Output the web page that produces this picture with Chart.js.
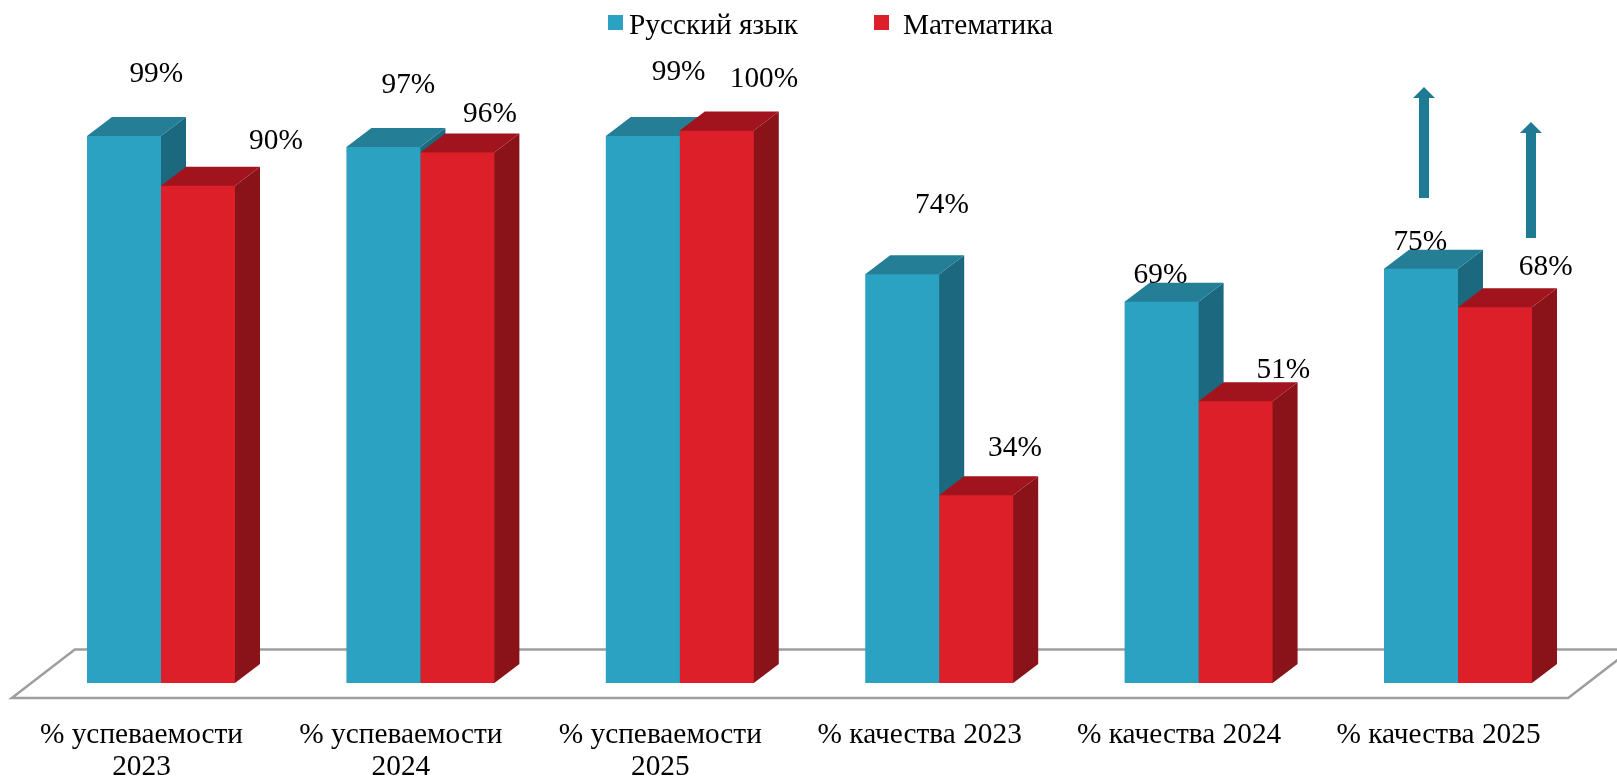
<!DOCTYPE html>
<html lang="ru">
<head>
<meta charset="utf-8">
<title>Успеваемость и качество</title>
<script src="https://cdn.jsdelivr.net/npm/chart.js@4"></script>
<style>
html,body{margin:0;padding:0;background:#fff;overflow:hidden}
canvas{display:block}
</style>
</head>
<body>
<canvas id="c" width="1617" height="781"></canvas>
<script>
const categories = [
  ['% успеваемости', '2023'],
  ['% успеваемости', '2024'],
  ['% успеваемости', '2025'],
  '% качества 2023',
  '% качества 2024',
  '% качества 2025'
];
const seriesNames = ['Русский язык', 'Математика'];
const russianValues = [99, 97, 99, 74, 69, 75];
const mathValues = [90, 96, 100, 34, 51, 68];

const FONT = '"Liberation Serif", "Times New Roman", serif';
const FONT_SIZE = 29.33;
const palette = [
  { front: '#2CA2C2', top: '#237E96', side: '#1C687E' },
  { front: '#DD1F29', top: '#A2141D', side: '#8A1319' }
];
const arrowColor = '#1F7A93';
const floorColor = '#9E9E9E';

/* hand-placed value labels: offset from the top centre of each bar */
const labelOffsets = [
  [[32.3, -61.7], [25, -61.6], [35.8, -64], [39.8, -69], [-1.1, -26.8], [-0.7, -26]],
  [[78, -44.7], [32.6, -38.2], [47.2, -51.1], [38.8, -46.5], [47.8, -31.2], [50.7, -39.6]]
];

const DEPTH_X = 25, DEPTH_Y = 19;

function poly(ctx, pts, fill) {
  ctx.beginPath();
  pts.forEach((p, i) => i ? ctx.lineTo(p[0], p[1]) : ctx.moveTo(p[0], p[1]));
  ctx.closePath();
  ctx.fillStyle = fill;
  ctx.fill();
}

const scene = {
  id: 'scene',
  beforeDatasetsDraw(chart) {
    const { ctx, chartArea: a, scales: { y } } = chart;
    const base = y.getPixelForValue(0);
    /* floor */
    const fx0 = a.left - 19.5, fx1 = a.right - 19.5, fy = base + 15;
    ctx.save();
    ctx.strokeStyle = floorColor;
    ctx.lineWidth = 2.5;
    ctx.lineJoin = 'miter';
    ctx.beginPath();
    ctx.moveTo(fx0, fy);
    ctx.lineTo(fx1, fy);
    ctx.lineTo(fx1 + 63, fy - 48.5);
    ctx.lineTo(fx0 + 63, fy - 48.5);
    ctx.closePath();
    ctx.stroke();
    /* depth faces: tucked 1px under the front face so no seam shows */
    categories.forEach((_, i) => {
      [0, 1].forEach(d => {
        const b = chart.getDatasetMeta(d).data[i];
        const l = b.x - b.width / 2, r = b.x + b.width / 2, t = b.y, bo = b.base;
        const c = palette[d];
        poly(ctx, [[r - 1, t], [r, t], [r + DEPTH_X, t - DEPTH_Y], [r + DEPTH_X, bo - DEPTH_Y], [r, bo], [r - 1, bo]], c.side);
        poly(ctx, [[l + 1, t + 1], [l, t], [l + DEPTH_X, t - DEPTH_Y], [r + DEPTH_X, t - DEPTH_Y], [r, t], [r - 1, t + 1]], c.top);
      });
    });
    ctx.restore();
  },
  afterDatasetsDraw(chart) {
    const { ctx, data } = chart;
    ctx.save();
    /* value labels */
    ctx.font = FONT_SIZE + 'px ' + FONT;
    ctx.fillStyle = '#000';
    ctx.textAlign = 'center';
    ctx.textBaseline = 'middle';
    [0, 1].forEach(d => {
      chart.getDatasetMeta(d).data.forEach((b, i) => {
        const o = labelOffsets[d][i];
        ctx.fillText(data.datasets[d].data[i] + '%', b.x + o[0], b.y + o[1]);
      });
    });
    /* upward trend arrows over the last category */
    const last = categories.length - 1;
    [[0, 3, 70.6, 111], [1, 36, 69.3, 116]].forEach(([d, dx, gap, len]) => {
      const b = chart.getDatasetMeta(d).data[last];
      const x = b.x + dx, bot = b.y - gap, top = bot - len;
      poly(ctx, [[x - 5, bot], [x - 5, top + 11], [x - 11, top + 11], [x, top],
                 [x + 11, top + 11], [x + 5, top + 11], [x + 5, bot]], arrowColor);
    });
    /* legend */
    ctx.font = FONT_SIZE + 'px ' + FONT;
    ctx.textAlign = 'left';
    const items = [[608, 629], [874, 903]];
    items.forEach(([bx, tx], d) => {
      ctx.fillStyle = palette[d].front;
      ctx.fillRect(bx, 15, 15, 15);
      ctx.fillStyle = '#000';
      ctx.fillText(data.datasets[d].label, tx, 26);
    });
    ctx.restore();
  }
};

new Chart(document.getElementById('c'), {
  type: 'bar',
  data: {
    labels: categories,
    datasets: [
      { label: seriesNames[0], data: russianValues, backgroundColor: palette[0].front },
      { label: seriesNames[1], data: mathValues, backgroundColor: palette[1].front }
    ]
  },
  options: {
    responsive: false,
    animation: false,
    layout: { padding: { top: 130.5, left: 31.3, right: 29.3, bottom: 0 } },
    plugins: { legend: { display: false }, tooltip: { enabled: false } },
    datasets: { bar: { categoryPercentage: 0.5705, barPercentage: 1, borderWidth: 0 } },
    scales: {
      y: { display: false, min: 0, max: 100 },
      x: {
        afterFit(s) { s.height = 98; },
        grid: { display: false },
        border: { display: false },
        ticks: {
          color: '#000',
          font: { family: FONT, size: FONT_SIZE, lineHeight: 1.09 },
          padding: 28,
          labelOffset: -19.5,
          maxRotation: 0,
          minRotation: 0,
          autoSkip: false
        }
      }
    }
  },
  plugins: [scene]
});
</script>
</body>
</html>
